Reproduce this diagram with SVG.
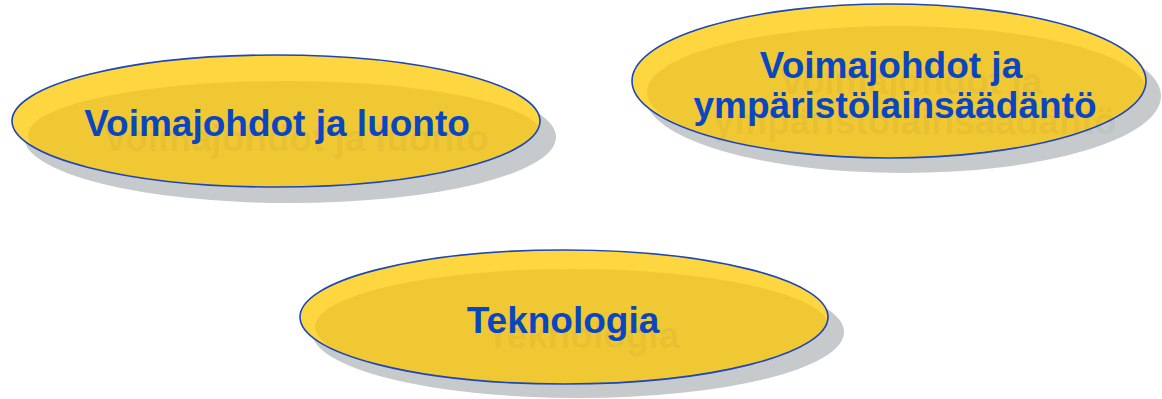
<svg xmlns="http://www.w3.org/2000/svg" width="1162" height="399" viewBox="0 0 1162 399">
  <defs>
    <style>
      .shadow { fill: #c6cacd; }
      .rim { fill: #fdd640; }
      .body { fill: #f0c834; }
      .outline { fill: none; stroke: #1c47b5; stroke-width: 1.6; }
      .label { font-family: "Liberation Sans", Arial, sans-serif; font-weight: bold; font-size: 37px; fill: #0b46c1; text-anchor: middle; }
      .ghost { font-family: "Liberation Sans", Arial, sans-serif; font-weight: bold; font-size: 37px; fill: #000000; fill-opacity: 0.05; text-anchor: middle; }
    </style>
    <clipPath id="clip1"><ellipse cx="276" cy="121" rx="264" ry="66"/></clipPath>
    <clipPath id="clip2"><ellipse cx="889" cy="81" rx="257" ry="77"/></clipPath>
    <clipPath id="clip3"><ellipse cx="564" cy="317" rx="264" ry="67"/></clipPath>
  </defs>
  <rect width="1162" height="399" fill="#ffffff"/>
  <g id="connectors"></g>

  <g id="node-luonto">
    <ellipse class="shadow" cx="290" cy="137" rx="266" ry="66"/>
    <ellipse class="rim" cx="276" cy="121" rx="264" ry="66"/>
    <ellipse class="body" clip-path="url(#clip1)" cx="285" cy="135" rx="257" ry="54"/>
    <ellipse class="outline" cx="276" cy="121" rx="264" ry="66"/>
    <text class="ghost" x="296" y="151">Voimajohdot ja luonto</text>
    <text class="label" x="277" y="136">Voimajohdot ja luonto</text>
  </g>

  <g id="node-lainsaadanto">
    <ellipse class="shadow" cx="903" cy="96" rx="258" ry="77"/>
    <ellipse class="rim" cx="889" cy="81" rx="257" ry="77"/>
    <ellipse class="body" clip-path="url(#clip2)" cx="897" cy="92" rx="250" ry="66"/>
    <ellipse class="outline" cx="889" cy="81" rx="257" ry="77"/>
    <text class="ghost" x="911" y="94">Voimajohdot ja</text>
    <text class="ghost" x="915" y="134">ympäristölainsäädäntö</text>
    <text class="label" x="891" y="78">Voimajohdot ja</text>
    <text class="label" x="895" y="118">ympäristölainsäädäntö</text>
  </g>

  <g id="node-teknologia">
    <ellipse class="shadow" cx="578" cy="332" rx="266" ry="66"/>
    <ellipse class="rim" cx="564" cy="317" rx="264" ry="67"/>
    <ellipse class="body" clip-path="url(#clip3)" cx="572" cy="327" rx="257" ry="58"/>
    <ellipse class="outline" cx="564" cy="317" rx="264" ry="67"/>
    <text class="ghost" x="583" y="348">Teknologia</text>
    <text class="label" x="563" y="333">Teknologia</text>
  </g>
</svg>
